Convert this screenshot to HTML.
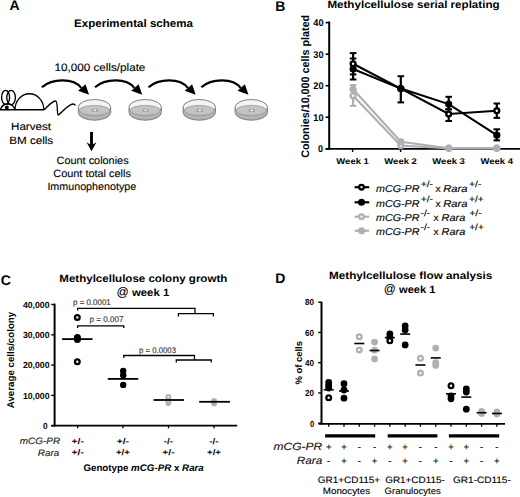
<!DOCTYPE html>
<html><head><meta charset="utf-8"><style>
html,body{margin:0;padding:0;background:#fff;}
svg{display:block;font-family:"Liberation Sans", sans-serif;text-rendering:geometricPrecision;}
</style></head><body>
<svg width="520" height="497" viewBox="0 0 520 497">
<rect width="520" height="497" fill="#fff"/>
<text x="9.6" y="10.2" font-size="14" font-weight="bold">A</text>
<text x="74" y="27" font-size="11" font-weight="bold" textLength="119" lengthAdjust="spacingAndGlyphs">Experimental schema</text>
<text x="54.4" y="70.9" font-size="10.8" stroke="#000" stroke-width="0.12" textLength="91" lengthAdjust="spacingAndGlyphs">10,000 cells/plate</text>
<g fill="none" stroke="#000" stroke-width="1.35">
<line x1="0" y1="109.8" x2="44" y2="109.8" stroke-width="1.6"/>
<path d="M15,109.8 A14.4,16.1 0 0 1 43.8,109.8"/>
<path d="M0.3,110 C2.5,102 13,102 15,110"/>
<ellipse cx="5.6" cy="97.4" rx="4.0" ry="7.0"/>
<ellipse cx="11.1" cy="97.6" rx="4.3" ry="7.2"/>
<path d="M44,110 C48,106 52,101 55.5,101 C58,101 57,115 58,115 C60,115 68,104 73,104 C74.5,104 75.5,105.5 75.5,105.5"/>
</g>
<circle cx="6.8" cy="107.5" r="2.0" fill="#000"/>
<g stroke="#808080" stroke-width="1.0">
<path d="M78.3,107.4 L78.3,112.4 A16.2,7.8 0 0 0 110.7,112.4 L110.7,107.4 Z" fill="#b3b3b3"/>
<ellipse cx="94.5" cy="107.4" rx="16.2" ry="7.9" fill="#f4f4f4"/>
<ellipse cx="94.5" cy="110.4" rx="15.0" ry="5.0" fill="#c4c4c4" stroke="#939393" stroke-width="0.7"/>
<ellipse cx="94.9" cy="110.4" rx="3.4" ry="1.6" fill="#a2a2a2" stroke="none"/>
<ellipse cx="95.0" cy="110.4" rx="1.3" ry="0.8" fill="#fafafa" stroke="none"/>
</g>
<g stroke="#808080" stroke-width="1.0">
<path d="M129.0,107.4 L129.0,112.4 A16.2,7.8 0 0 0 161.39999999999998,112.4 L161.39999999999998,107.4 Z" fill="#b3b3b3"/>
<ellipse cx="145.2" cy="107.4" rx="16.2" ry="7.9" fill="#f4f4f4"/>
<ellipse cx="145.2" cy="110.4" rx="15.0" ry="5.0" fill="#c4c4c4" stroke="#939393" stroke-width="0.7"/>
<ellipse cx="145.6" cy="110.4" rx="3.4" ry="1.6" fill="#a2a2a2" stroke="none"/>
<ellipse cx="145.7" cy="110.4" rx="1.3" ry="0.8" fill="#fafafa" stroke="none"/>
</g>
<g stroke="#808080" stroke-width="1.0">
<path d="M183.10000000000002,107.4 L183.10000000000002,112.4 A16.2,7.8 0 0 0 215.5,112.4 L215.5,107.4 Z" fill="#b3b3b3"/>
<ellipse cx="199.3" cy="107.4" rx="16.2" ry="7.9" fill="#f4f4f4"/>
<ellipse cx="199.3" cy="110.4" rx="15.0" ry="5.0" fill="#c4c4c4" stroke="#939393" stroke-width="0.7"/>
<ellipse cx="199.70000000000002" cy="110.4" rx="3.4" ry="1.6" fill="#a2a2a2" stroke="none"/>
<ellipse cx="199.8" cy="110.4" rx="1.3" ry="0.8" fill="#fafafa" stroke="none"/>
</g>
<g stroke="#808080" stroke-width="1.0">
<path d="M235.10000000000002,107.4 L235.10000000000002,112.4 A16.2,7.8 0 0 0 267.5,112.4 L267.5,107.4 Z" fill="#b3b3b3"/>
<ellipse cx="251.3" cy="107.4" rx="16.2" ry="7.9" fill="#f4f4f4"/>
<ellipse cx="251.3" cy="110.4" rx="15.0" ry="5.0" fill="#c4c4c4" stroke="#939393" stroke-width="0.7"/>
<ellipse cx="251.70000000000002" cy="110.4" rx="3.4" ry="1.6" fill="#a2a2a2" stroke="none"/>
<ellipse cx="251.8" cy="110.4" rx="1.3" ry="0.8" fill="#fafafa" stroke="none"/>
</g>
<path d="M41.9,87.3 C51.9,78.1 73.9,77.7 81.19999999999999,87.89999999999999" stroke="#000" stroke-width="2.2" fill="none"/>
<path d="M85.5,84.2 L78.1,90.8 L89.1,94.8 Z" fill="#000"/>
<path d="M95.0,87.3 C105.0,78.1 127.0,77.7 134.3,87.89999999999999" stroke="#000" stroke-width="2.2" fill="none"/>
<path d="M138.6,84.2 L131.2,90.8 L142.2,94.8 Z" fill="#000"/>
<path d="M148.5,87.3 C158.5,78.1 180.5,77.7 187.8,87.89999999999999" stroke="#000" stroke-width="2.2" fill="none"/>
<path d="M192.1,84.2 L184.7,90.8 L195.7,94.8 Z" fill="#000"/>
<path d="M201.3,87.3 C211.3,78.1 233.3,77.7 240.60000000000002,87.89999999999999" stroke="#000" stroke-width="2.2" fill="none"/>
<path d="M244.9,84.2 L237.5,90.8 L248.5,94.8 Z" fill="#000"/>
<text x="11.0" y="130" font-size="10.5" stroke="#000" stroke-width="0.12" textLength="40" lengthAdjust="spacingAndGlyphs">Harvest</text>
<text x="9.2" y="143.6" font-size="10.5" stroke="#000" stroke-width="0.12" textLength="44" lengthAdjust="spacingAndGlyphs">BM cells</text>
<line x1="91.5" y1="131.9" x2="91.5" y2="145" stroke="#000" stroke-width="2.9"/>
<path d="M86.6,142.2 L91.5,151.2 L96.4,142.2 L91.5,145.2 Z" fill="#000"/>
<text x="56.6" y="164.4" font-size="10.5" stroke="#000" stroke-width="0.12" textLength="72" lengthAdjust="spacingAndGlyphs">Count colonies</text>
<text x="53.3" y="176.9" font-size="10.5" stroke="#000" stroke-width="0.12" textLength="77.6" lengthAdjust="spacingAndGlyphs">Count total cells</text>
<text x="47.4" y="189.5" font-size="10.5" stroke="#000" stroke-width="0.12" textLength="88.8" lengthAdjust="spacingAndGlyphs">Immunophenotype</text>
<text x="275.2" y="11.2" font-size="14" font-weight="bold">B</text>
<text x="327.4" y="8.1" font-size="10.5" font-weight="bold" textLength="172.2" lengthAdjust="spacingAndGlyphs">Methylcellulose serial replating</text>
<g transform="translate(308.9,157.8) rotate(-90)">
<text x="0" y="0" font-size="11" font-weight="bold" textLength="143.0" lengthAdjust="spacingAndGlyphs">Colonies/10,000 cells plated</text>
</g>
<text x="323.0" y="152.4" font-size="9.8" font-weight="bold" text-anchor="end" textLength="5.0" lengthAdjust="spacingAndGlyphs">0</text>
<line x1="325.6" y1="148.8" x2="329.2" y2="148.8" stroke="#000" stroke-width="1.6"/>
<text x="323.5" y="120.85000000000001" font-size="9.8" font-weight="bold" text-anchor="end" textLength="10.2" lengthAdjust="spacingAndGlyphs">10</text>
<line x1="325.6" y1="117.25000000000001" x2="329.2" y2="117.25000000000001" stroke="#000" stroke-width="1.6"/>
<text x="323.5" y="89.30000000000001" font-size="9.8" font-weight="bold" text-anchor="end" textLength="10.2" lengthAdjust="spacingAndGlyphs">20</text>
<line x1="325.6" y1="85.70000000000002" x2="329.2" y2="85.70000000000002" stroke="#000" stroke-width="1.6"/>
<text x="323.5" y="57.75000000000002" font-size="9.8" font-weight="bold" text-anchor="end" textLength="10.2" lengthAdjust="spacingAndGlyphs">30</text>
<line x1="325.6" y1="54.15000000000002" x2="329.2" y2="54.15000000000002" stroke="#000" stroke-width="1.6"/>
<text x="323.5" y="26.200000000000024" font-size="9.8" font-weight="bold" text-anchor="end" textLength="10.2" lengthAdjust="spacingAndGlyphs">40</text>
<line x1="325.6" y1="22.600000000000023" x2="329.2" y2="22.600000000000023" stroke="#000" stroke-width="1.6"/>
<line x1="329.2" y1="21.6" x2="329.2" y2="149.6" stroke="#000" stroke-width="2"/>
<line x1="325.6" y1="148.8" x2="520" y2="148.8" stroke="#000" stroke-width="1.7"/>
<line x1="352.6" y1="148.8" x2="352.6" y2="152" stroke="#000" stroke-width="1.4"/>
<text x="352.6" y="163.5" font-size="8.3" font-weight="bold" text-anchor="middle" textLength="32.5" lengthAdjust="spacingAndGlyphs">Week 1</text>
<line x1="400.6" y1="148.8" x2="400.6" y2="152" stroke="#000" stroke-width="1.4"/>
<text x="400.6" y="163.5" font-size="8.3" font-weight="bold" text-anchor="middle" textLength="32.5" lengthAdjust="spacingAndGlyphs">Week 2</text>
<line x1="448.6" y1="148.8" x2="448.6" y2="152" stroke="#000" stroke-width="1.4"/>
<text x="448.6" y="163.5" font-size="8.3" font-weight="bold" text-anchor="middle" textLength="32.5" lengthAdjust="spacingAndGlyphs">Week 3</text>
<line x1="496.7" y1="148.8" x2="496.7" y2="152" stroke="#000" stroke-width="1.4"/>
<text x="496.7" y="163.5" font-size="8.3" font-weight="bold" text-anchor="middle" textLength="32.5" lengthAdjust="spacingAndGlyphs">Week 4</text>
<polyline points="353.1,89.3 400.8,141.8 448.7,148.2 496.8,148.2" fill="none" stroke="#b0b0b0" stroke-width="2.1"/>
<line x1="353.1" y1="85" x2="353.1" y2="96" stroke="#b0b0b0" stroke-width="2.2"/>
<line x1="349.8" y1="85" x2="356.40000000000003" y2="85" stroke="#b0b0b0" stroke-width="2"/>
<line x1="349.8" y1="96" x2="356.40000000000003" y2="96" stroke="#b0b0b0" stroke-width="2"/>
<polyline points="353.1,95.8 400.8,145.6 448.7,148.2 496.8,148.2" fill="none" stroke="#b0b0b0" stroke-width="2.1"/>
<line x1="353.1" y1="91" x2="353.1" y2="105.8" stroke="#b0b0b0" stroke-width="2.2"/>
<line x1="349.8" y1="91" x2="356.40000000000003" y2="91" stroke="#b0b0b0" stroke-width="2"/>
<line x1="349.8" y1="105.8" x2="356.40000000000003" y2="105.8" stroke="#b0b0b0" stroke-width="2"/>
<circle cx="353.1" cy="95.8" r="2.4" fill="#fff" stroke="#b0b0b0" stroke-width="2.4"/>
<circle cx="400.8" cy="145.6" r="2.4" fill="#fff" stroke="#b0b0b0" stroke-width="2.4"/>
<circle cx="448.7" cy="148.2" r="2.4" fill="#fff" stroke="#b0b0b0" stroke-width="2.4"/>
<circle cx="496.8" cy="148.2" r="2.4" fill="#fff" stroke="#b0b0b0" stroke-width="2.4"/>
<circle cx="353.1" cy="89.3" r="3.6" fill="#b0b0b0"/>
<circle cx="400.8" cy="141.8" r="3.6" fill="#b0b0b0"/>
<circle cx="448.7" cy="148.2" r="3.6" fill="#b0b0b0"/>
<circle cx="496.8" cy="148.2" r="3.6" fill="#b0b0b0"/>
<polyline points="353.1,63.8 400.8,88.6 448.7,114.0 496.8,110.7" fill="none" stroke="#000" stroke-width="2.1"/>
<line x1="353.1" y1="53.1" x2="353.1" y2="74.4" stroke="#000" stroke-width="2.2"/>
<line x1="349.8" y1="53.1" x2="356.40000000000003" y2="53.1" stroke="#000" stroke-width="2"/>
<line x1="349.8" y1="74.4" x2="356.40000000000003" y2="74.4" stroke="#000" stroke-width="2"/>
<line x1="448.7" y1="109.3" x2="448.7" y2="121" stroke="#000" stroke-width="2.2"/>
<line x1="445.4" y1="109.3" x2="452.0" y2="109.3" stroke="#000" stroke-width="2"/>
<line x1="445.4" y1="121" x2="452.0" y2="121" stroke="#000" stroke-width="2"/>
<line x1="496.8" y1="103.5" x2="496.8" y2="117.9" stroke="#000" stroke-width="2.2"/>
<line x1="493.5" y1="103.5" x2="500.1" y2="103.5" stroke="#000" stroke-width="2"/>
<line x1="493.5" y1="117.9" x2="500.1" y2="117.9" stroke="#000" stroke-width="2"/>
<polyline points="353.1,69.0 400.8,88.6 448.7,104.1 496.8,135.2" fill="none" stroke="#000" stroke-width="2.1"/>
<line x1="353.1" y1="58.5" x2="353.1" y2="79.5" stroke="#000" stroke-width="2.2"/>
<line x1="349.8" y1="58.5" x2="356.40000000000003" y2="58.5" stroke="#000" stroke-width="2"/>
<line x1="349.8" y1="79.5" x2="356.40000000000003" y2="79.5" stroke="#000" stroke-width="2"/>
<line x1="400.8" y1="76.2" x2="400.8" y2="102.4" stroke="#000" stroke-width="2.2"/>
<line x1="397.5" y1="76.2" x2="404.1" y2="76.2" stroke="#000" stroke-width="2"/>
<line x1="397.5" y1="102.4" x2="404.1" y2="102.4" stroke="#000" stroke-width="2"/>
<line x1="448.7" y1="96.8" x2="448.7" y2="109.3" stroke="#000" stroke-width="2.2"/>
<line x1="445.4" y1="96.8" x2="452.0" y2="96.8" stroke="#000" stroke-width="2"/>
<line x1="445.4" y1="109.3" x2="452.0" y2="109.3" stroke="#000" stroke-width="2"/>
<line x1="496.8" y1="129.3" x2="496.8" y2="140.4" stroke="#000" stroke-width="2.2"/>
<line x1="493.5" y1="129.3" x2="500.1" y2="129.3" stroke="#000" stroke-width="2"/>
<line x1="493.5" y1="140.4" x2="500.1" y2="140.4" stroke="#000" stroke-width="2"/>
<circle cx="353.1" cy="63.8" r="2.4" fill="#fff" stroke="#000" stroke-width="2.4"/>
<circle cx="400.8" cy="88.6" r="2.4" fill="#fff" stroke="#000" stroke-width="2.4"/>
<circle cx="448.7" cy="114.0" r="2.4" fill="#fff" stroke="#000" stroke-width="2.4"/>
<circle cx="496.8" cy="110.7" r="2.4" fill="#fff" stroke="#000" stroke-width="2.4"/>
<circle cx="353.1" cy="69.0" r="3.6" fill="#000"/>
<circle cx="400.8" cy="88.6" r="3.6" fill="#000"/>
<circle cx="448.7" cy="104.1" r="3.6" fill="#000"/>
<circle cx="496.8" cy="135.2" r="3.6" fill="#000"/>
<line x1="354.6" y1="187.2" x2="369.2" y2="187.2" stroke="#000" stroke-width="2.2"/>
<circle cx="361.5" cy="187.2" r="2.3" fill="#fff" stroke="#000" stroke-width="2.3"/>
<text x="376.0" y="191.6" font-size="10" font-style="italic" stroke="#000" stroke-width="0.12" textLength="43.5" lengthAdjust="spacingAndGlyphs">mCG-PR</text>
<text x="420.7" y="186.7" font-size="9" stroke="#000" stroke-width="0.12" textLength="12.4" lengthAdjust="spacingAndGlyphs">+/-</text>
<text x="435.6" y="191.6" font-size="10" stroke="#000" stroke-width="0.12" textLength="5.2" lengthAdjust="spacingAndGlyphs">x</text>
<text x="443.2" y="191.6" font-size="10" font-style="italic" stroke="#000" stroke-width="0.12" textLength="24.2" lengthAdjust="spacingAndGlyphs">Rara</text>
<text x="469.0" y="186.7" font-size="9" stroke="#000" stroke-width="0.12" textLength="12.4" lengthAdjust="spacingAndGlyphs">+/-</text>
<line x1="354.6" y1="202.3" x2="369.2" y2="202.3" stroke="#000" stroke-width="2.2"/>
<circle cx="361.5" cy="202.3" r="3.5" fill="#000"/>
<text x="376.0" y="206.70000000000002" font-size="10" font-style="italic" stroke="#000" stroke-width="0.12" textLength="43.5" lengthAdjust="spacingAndGlyphs">mCG-PR</text>
<text x="420.7" y="201.8" font-size="9" stroke="#000" stroke-width="0.12" textLength="12.4" lengthAdjust="spacingAndGlyphs">+/-</text>
<text x="435.6" y="206.70000000000002" font-size="10" stroke="#000" stroke-width="0.12" textLength="5.2" lengthAdjust="spacingAndGlyphs">x</text>
<text x="443.2" y="206.70000000000002" font-size="10" font-style="italic" stroke="#000" stroke-width="0.12" textLength="24.2" lengthAdjust="spacingAndGlyphs">Rara</text>
<text x="469.0" y="201.8" font-size="9" stroke="#000" stroke-width="0.12" textLength="14.6" lengthAdjust="spacingAndGlyphs">+/+</text>
<line x1="354.6" y1="216.7" x2="369.2" y2="216.7" stroke="#b0b0b0" stroke-width="2.2"/>
<circle cx="361.5" cy="216.7" r="2.3" fill="#fff" stroke="#b0b0b0" stroke-width="2.3"/>
<text x="376.0" y="221.1" font-size="10" font-style="italic" stroke="#000" stroke-width="0.12" textLength="43.5" lengthAdjust="spacingAndGlyphs">mCG-PR</text>
<text x="420.6" y="216.2" font-size="9" stroke="#000" stroke-width="0.12" textLength="9.6" lengthAdjust="spacingAndGlyphs">-/-</text>
<text x="433.4" y="221.1" font-size="10" stroke="#000" stroke-width="0.12" textLength="5.2" lengthAdjust="spacingAndGlyphs">x</text>
<text x="441.6" y="221.1" font-size="10" font-style="italic" stroke="#000" stroke-width="0.12" textLength="23.7" lengthAdjust="spacingAndGlyphs">Rara</text>
<text x="469.2" y="216.2" font-size="9" stroke="#000" stroke-width="0.12" textLength="12.6" lengthAdjust="spacingAndGlyphs">+/-</text>
<line x1="354.6" y1="230.7" x2="369.2" y2="230.7" stroke="#b0b0b0" stroke-width="2.2"/>
<circle cx="361.5" cy="230.7" r="3.5" fill="#b0b0b0"/>
<text x="376.0" y="235.1" font-size="10" font-style="italic" stroke="#000" stroke-width="0.12" textLength="43.5" lengthAdjust="spacingAndGlyphs">mCG-PR</text>
<text x="420.6" y="230.2" font-size="9" stroke="#000" stroke-width="0.12" textLength="9.6" lengthAdjust="spacingAndGlyphs">-/-</text>
<text x="433.4" y="235.1" font-size="10" stroke="#000" stroke-width="0.12" textLength="5.2" lengthAdjust="spacingAndGlyphs">x</text>
<text x="441.6" y="235.1" font-size="10" font-style="italic" stroke="#000" stroke-width="0.12" textLength="23.7" lengthAdjust="spacingAndGlyphs">Rara</text>
<text x="469.2" y="230.2" font-size="9" stroke="#000" stroke-width="0.12" textLength="14.6" lengthAdjust="spacingAndGlyphs">+/+</text>
<text x="0.8" y="285" font-size="14" font-weight="bold">C</text>
<text x="59.3" y="282.3" font-size="10.5" font-weight="bold" textLength="168" lengthAdjust="spacingAndGlyphs">Methylcellulose colony growth</text>
<text x="116.4" y="296" font-size="12.5" stroke="#000" stroke-width="0.12" textLength="12.2" lengthAdjust="spacingAndGlyphs">@</text>
<text x="132.0" y="296" font-size="10.5" font-weight="bold" textLength="37.2" lengthAdjust="spacingAndGlyphs">week 1</text>
<text x="47.5" y="428.8" font-size="8.8" font-weight="bold" text-anchor="end" textLength="4.6" lengthAdjust="spacingAndGlyphs">0</text>
<line x1="51.3" y1="425.7" x2="54.6" y2="425.7" stroke="#000" stroke-width="1.4"/>
<text x="49.5" y="398.5" font-size="8.8" font-weight="bold" text-anchor="end" textLength="26.6" lengthAdjust="spacingAndGlyphs">10,000</text>
<line x1="51.3" y1="395.4" x2="54.6" y2="395.4" stroke="#000" stroke-width="1.4"/>
<text x="49.5" y="368.2" font-size="8.8" font-weight="bold" text-anchor="end" textLength="26.6" lengthAdjust="spacingAndGlyphs">20,000</text>
<line x1="51.3" y1="365.09999999999997" x2="54.6" y2="365.09999999999997" stroke="#000" stroke-width="1.4"/>
<text x="49.5" y="337.9" font-size="8.8" font-weight="bold" text-anchor="end" textLength="26.6" lengthAdjust="spacingAndGlyphs">30,000</text>
<line x1="51.3" y1="334.79999999999995" x2="54.6" y2="334.79999999999995" stroke="#000" stroke-width="1.4"/>
<text x="49.5" y="307.6" font-size="8.8" font-weight="bold" text-anchor="end" textLength="26.6" lengthAdjust="spacingAndGlyphs">40,000</text>
<line x1="51.3" y1="304.5" x2="54.6" y2="304.5" stroke="#000" stroke-width="1.4"/>
<line x1="54.6" y1="303.6" x2="54.6" y2="426.5" stroke="#000" stroke-width="2"/>
<line x1="51.3" y1="425.7" x2="237.2" y2="425.7" stroke="#000" stroke-width="1.8"/>
<line x1="77.7" y1="425.7" x2="77.7" y2="428.3" stroke="#000" stroke-width="1.3"/>
<line x1="122.9" y1="425.7" x2="122.9" y2="428.3" stroke="#000" stroke-width="1.3"/>
<line x1="168.5" y1="425.7" x2="168.5" y2="428.3" stroke="#000" stroke-width="1.3"/>
<line x1="214.0" y1="425.7" x2="214.0" y2="428.3" stroke="#000" stroke-width="1.3"/>
<g transform="translate(14.1,408.2) rotate(-90)">
<text x="0" y="0" font-size="9.8" font-weight="bold" textLength="96.4" lengthAdjust="spacingAndGlyphs">Average cells/colony</text>
</g>
<circle cx="77.3" cy="317.4" r="2.35" fill="#fff" stroke="#000" stroke-width="2.3"/>
<circle cx="77.3" cy="361.8" r="2.35" fill="#fff" stroke="#000" stroke-width="2.3"/>
<circle cx="77.4" cy="337.6" r="3.5" fill="#000"/>
<circle cx="77.4" cy="339.6" r="3.5" fill="#000"/>
<line x1="62.1" y1="339.1" x2="92.5" y2="339.1" stroke="#000" stroke-width="1.8"/>
<circle cx="123.2" cy="371.0" r="3.2" fill="#000"/>
<circle cx="123.2" cy="375.3" r="3.2" fill="#000"/>
<circle cx="123.2" cy="384.9" r="3.2" fill="#000"/>
<line x1="107.8" y1="378.9" x2="138.3" y2="378.9" stroke="#000" stroke-width="1.8"/>
<circle cx="168.4" cy="403.0" r="2.9" fill="#b0b0b0"/>
<circle cx="168.4" cy="397.0" r="2.1" fill="#e6e6e6" stroke="#b0b0b0" stroke-width="1.7"/>
<circle cx="168.4" cy="401.0" r="2.1" fill="#d0d0d0" stroke="#b0b0b0" stroke-width="1.7"/>
<line x1="153.6" y1="400.0" x2="184.0" y2="400.0" stroke="#000" stroke-width="1.8"/>
<circle cx="214.1" cy="401.0" r="2.9" fill="#b0b0b0"/>
<circle cx="214.1" cy="403.4" r="2.9" fill="#b0b0b0"/>
<line x1="199.2" y1="401.8" x2="229.9" y2="401.8" stroke="#000" stroke-width="1.8"/>
<path d="M77.6,310.6 V308.3 H195 V313.6 M178.4,316.4 V313.6 H213.4 V316.4" stroke="#000" stroke-width="1.3" fill="none"/>
<path d="M77.6,328.1 V325.8 H123.8 V328.1" stroke="#000" stroke-width="1.3" fill="none"/>
<path d="M123.8,358 V355.5 H194.5 V360 M176.3,362.5 V360 H211.3 V362.5" stroke="#000" stroke-width="1.3" fill="none"/>
<text x="73.0" y="304.6" font-size="8.2" fill="#333" stroke="#333" stroke-width="0.12" textLength="37.8" lengthAdjust="spacingAndGlyphs">p = 0.0001</text>
<text x="89.6" y="321.6" font-size="8.2" fill="#333" stroke="#333" stroke-width="0.12" textLength="33.8" lengthAdjust="spacingAndGlyphs">p = 0.007</text>
<text x="139.0" y="352.7" font-size="8.2" fill="#333" stroke="#333" stroke-width="0.12" textLength="37.0" lengthAdjust="spacingAndGlyphs">p = 0.0003</text>
<text x="19.8" y="444.3" font-size="9.2" font-style="italic" fill="#222" stroke="#222" stroke-width="0.12" textLength="40.4" lengthAdjust="spacingAndGlyphs">mCG-PR</text>
<text x="37.8" y="455.8" font-size="9.2" font-style="italic" fill="#222" stroke="#222" stroke-width="0.12" textLength="21.6" lengthAdjust="spacingAndGlyphs">Rara</text>
<text x="77.7" y="443.5" font-size="8.2" font-weight="bold" text-anchor="middle" textLength="12.3" lengthAdjust="spacingAndGlyphs">+/-</text>
<text x="77.7" y="454.6" font-size="8.2" font-weight="bold" text-anchor="middle" textLength="12.3" lengthAdjust="spacingAndGlyphs">+/-</text>
<text x="122.9" y="443.5" font-size="8.2" font-weight="bold" text-anchor="middle" textLength="12.3" lengthAdjust="spacingAndGlyphs">+/-</text>
<text x="122.9" y="454.6" font-size="8.2" font-weight="bold" text-anchor="middle" textLength="13.9" lengthAdjust="spacingAndGlyphs">+/+</text>
<text x="168.5" y="443.5" font-size="8.2" font-weight="bold" text-anchor="middle" textLength="9.3" lengthAdjust="spacingAndGlyphs">-/-</text>
<text x="168.5" y="454.6" font-size="8.2" font-weight="bold" text-anchor="middle" textLength="12.3" lengthAdjust="spacingAndGlyphs">+/-</text>
<text x="214.0" y="443.5" font-size="8.2" font-weight="bold" text-anchor="middle" textLength="9.3" lengthAdjust="spacingAndGlyphs">-/-</text>
<text x="214.0" y="454.6" font-size="8.2" font-weight="bold" text-anchor="middle" textLength="13.9" lengthAdjust="spacingAndGlyphs">+/+</text>
<text x="83.4" y="470.8" font-size="9.6" font-weight="bold" textLength="120.4" lengthAdjust="spacingAndGlyphs">Genotype <tspan font-style="italic">mCG-PR</tspan> x <tspan font-style="italic">Rara</tspan></text>
<text x="275.2" y="282.6" font-size="14" font-weight="bold">D</text>
<text x="329.0" y="278.8" font-size="10.5" font-weight="bold" textLength="163.2" lengthAdjust="spacingAndGlyphs">Methylcellulose flow analysis</text>
<text x="383.8" y="292.6" font-size="12.5" stroke="#000" stroke-width="0.12" textLength="12.0" lengthAdjust="spacingAndGlyphs">@</text>
<text x="399.0" y="292.6" font-size="10.5" font-weight="bold" textLength="36.4" lengthAdjust="spacingAndGlyphs">week 1</text>
<text x="314.1" y="426.90000000000003" font-size="8.8" font-weight="bold" text-anchor="end" textLength="4.2" lengthAdjust="spacingAndGlyphs">0</text>
<line x1="318.2" y1="423.2" x2="321.5" y2="423.2" stroke="#000" stroke-width="1.4"/>
<text x="314.1" y="396.05" font-size="8.8" font-weight="bold" text-anchor="end" textLength="9.0" lengthAdjust="spacingAndGlyphs">20</text>
<line x1="318.2" y1="392.95" x2="321.5" y2="392.95" stroke="#000" stroke-width="1.4"/>
<text x="314.1" y="365.8" font-size="8.8" font-weight="bold" text-anchor="end" textLength="9.0" lengthAdjust="spacingAndGlyphs">40</text>
<line x1="318.2" y1="362.7" x2="321.5" y2="362.7" stroke="#000" stroke-width="1.4"/>
<text x="314.1" y="335.55" font-size="8.8" font-weight="bold" text-anchor="end" textLength="9.0" lengthAdjust="spacingAndGlyphs">60</text>
<line x1="318.2" y1="332.45" x2="321.5" y2="332.45" stroke="#000" stroke-width="1.4"/>
<text x="314.1" y="305.3" font-size="8.8" font-weight="bold" text-anchor="end" textLength="9.0" lengthAdjust="spacingAndGlyphs">80</text>
<line x1="318.2" y1="302.2" x2="321.5" y2="302.2" stroke="#000" stroke-width="1.4"/>
<line x1="321.5" y1="301.8" x2="321.5" y2="424.5" stroke="#000" stroke-width="2"/>
<line x1="318.6" y1="423.9" x2="505" y2="423.9" stroke="#000" stroke-width="1.8"/>
<g transform="translate(301.6,384.6) rotate(-90)">
<text x="0" y="0" font-size="9.5" font-weight="bold" textLength="43.6" lengthAdjust="spacingAndGlyphs">% of cells</text>
</g>
<line x1="328.7" y1="423.7" x2="328.7" y2="426.7" stroke="#000" stroke-width="1.3"/>
<line x1="343.99" y1="423.7" x2="343.99" y2="426.7" stroke="#000" stroke-width="1.3"/>
<line x1="359.28" y1="423.7" x2="359.28" y2="426.7" stroke="#000" stroke-width="1.3"/>
<line x1="374.57" y1="423.7" x2="374.57" y2="426.7" stroke="#000" stroke-width="1.3"/>
<line x1="389.86" y1="423.7" x2="389.86" y2="426.7" stroke="#000" stroke-width="1.3"/>
<line x1="405.15" y1="423.7" x2="405.15" y2="426.7" stroke="#000" stroke-width="1.3"/>
<line x1="420.44" y1="423.7" x2="420.44" y2="426.7" stroke="#000" stroke-width="1.3"/>
<line x1="435.73" y1="423.7" x2="435.73" y2="426.7" stroke="#000" stroke-width="1.3"/>
<line x1="451.02" y1="423.7" x2="451.02" y2="426.7" stroke="#000" stroke-width="1.3"/>
<line x1="466.30999999999995" y1="423.7" x2="466.30999999999995" y2="426.7" stroke="#000" stroke-width="1.3"/>
<line x1="481.59999999999997" y1="423.7" x2="481.59999999999997" y2="426.7" stroke="#000" stroke-width="1.3"/>
<line x1="496.89" y1="423.7" x2="496.89" y2="426.7" stroke="#000" stroke-width="1.3"/>
<line x1="325.1" y1="435.9" x2="375.2" y2="435.9" stroke="#000" stroke-width="3.2"/>
<line x1="387.7" y1="435.9" x2="437.4" y2="435.9" stroke="#000" stroke-width="3.2"/>
<line x1="448.9" y1="435.9" x2="499.2" y2="435.9" stroke="#000" stroke-width="3.2"/>
<text x="328.7" y="450" font-size="9.5" text-anchor="middle" fill="#111" stroke="#111" stroke-width="0.12">+</text>
<text x="328.7" y="464.3" font-size="9.5" text-anchor="middle" fill="#111" stroke="#111" stroke-width="0.12">-</text>
<text x="343.99" y="450" font-size="9.5" text-anchor="middle" fill="#111" stroke="#111" stroke-width="0.12">+</text>
<text x="343.99" y="464.3" font-size="9.5" text-anchor="middle" fill="#111" stroke="#111" stroke-width="0.12">+</text>
<text x="359.28" y="450" font-size="9.5" text-anchor="middle" fill="#111" stroke="#111" stroke-width="0.12">-</text>
<text x="359.28" y="464.3" font-size="9.5" text-anchor="middle" fill="#111" stroke="#111" stroke-width="0.12">-</text>
<text x="374.57" y="450" font-size="9.5" text-anchor="middle" fill="#111" stroke="#111" stroke-width="0.12">-</text>
<text x="374.57" y="464.3" font-size="9.5" text-anchor="middle" fill="#111" stroke="#111" stroke-width="0.12">+</text>
<text x="389.86" y="450" font-size="9.5" text-anchor="middle" fill="#111" stroke="#111" stroke-width="0.12">+</text>
<text x="389.86" y="464.3" font-size="9.5" text-anchor="middle" fill="#111" stroke="#111" stroke-width="0.12">-</text>
<text x="405.15" y="450" font-size="9.5" text-anchor="middle" fill="#111" stroke="#111" stroke-width="0.12">+</text>
<text x="405.15" y="464.3" font-size="9.5" text-anchor="middle" fill="#111" stroke="#111" stroke-width="0.12">+</text>
<text x="420.44" y="450" font-size="9.5" text-anchor="middle" fill="#111" stroke="#111" stroke-width="0.12">-</text>
<text x="420.44" y="464.3" font-size="9.5" text-anchor="middle" fill="#111" stroke="#111" stroke-width="0.12">-</text>
<text x="435.73" y="450" font-size="9.5" text-anchor="middle" fill="#111" stroke="#111" stroke-width="0.12">-</text>
<text x="435.73" y="464.3" font-size="9.5" text-anchor="middle" fill="#111" stroke="#111" stroke-width="0.12">+</text>
<text x="451.02" y="450" font-size="9.5" text-anchor="middle" fill="#111" stroke="#111" stroke-width="0.12">+</text>
<text x="451.02" y="464.3" font-size="9.5" text-anchor="middle" fill="#111" stroke="#111" stroke-width="0.12">-</text>
<text x="466.30999999999995" y="450" font-size="9.5" text-anchor="middle" fill="#111" stroke="#111" stroke-width="0.12">+</text>
<text x="466.30999999999995" y="464.3" font-size="9.5" text-anchor="middle" fill="#111" stroke="#111" stroke-width="0.12">+</text>
<text x="481.59999999999997" y="450" font-size="9.5" text-anchor="middle" fill="#111" stroke="#111" stroke-width="0.12">-</text>
<text x="481.59999999999997" y="464.3" font-size="9.5" text-anchor="middle" fill="#111" stroke="#111" stroke-width="0.12">-</text>
<text x="496.89" y="450" font-size="9.5" text-anchor="middle" fill="#111" stroke="#111" stroke-width="0.12">-</text>
<text x="496.89" y="464.3" font-size="9.5" text-anchor="middle" fill="#111" stroke="#111" stroke-width="0.12">+</text>
<text x="273.6" y="450" font-size="10.5" font-style="italic" fill="#111" stroke="#111" stroke-width="0.12" textLength="48.6" lengthAdjust="spacingAndGlyphs">mCG-PR</text>
<text x="296.8" y="464.3" font-size="10.5" font-style="italic" fill="#111" stroke="#111" stroke-width="0.12" textLength="25.4" lengthAdjust="spacingAndGlyphs">Rara</text>
<text x="317.8" y="483.3" font-size="9.2" stroke="#000" stroke-width="0.12" textLength="62.4" lengthAdjust="spacingAndGlyphs">GR1+CD115+</text>
<text x="322.8" y="494.3" font-size="9.2" stroke="#000" stroke-width="0.12" textLength="47.4" lengthAdjust="spacingAndGlyphs">Monocytes</text>
<text x="385.2" y="482.8" font-size="9.2" stroke="#000" stroke-width="0.12" textLength="59.6" lengthAdjust="spacingAndGlyphs">GR1+CD115-</text>
<text x="384.6" y="494.3" font-size="9.2" stroke="#000" stroke-width="0.12" textLength="56.2" lengthAdjust="spacingAndGlyphs">Granulocytes</text>
<text x="453.0" y="482.8" font-size="9.2" stroke="#000" stroke-width="0.12" textLength="57.8" lengthAdjust="spacingAndGlyphs">GR1-CD115-</text>
<circle cx="328.7" cy="382.5" r="3.4" fill="#000"/>
<circle cx="328.7" cy="385.5" r="3.4" fill="#000"/>
<circle cx="328.7" cy="388.0" r="3.4" fill="#000"/>
<circle cx="328.7" cy="397.8" r="2.35" fill="#fff" stroke="#000" stroke-width="2.3"/>
<circle cx="343.99" cy="383.7" r="3.4" fill="#000"/>
<circle cx="343.99" cy="390.0" r="3.4" fill="#000"/>
<circle cx="343.99" cy="398.2" r="3.4" fill="#000"/>
<circle cx="359.28" cy="336.7" r="2.35" fill="#fff" stroke="#b0b0b0" stroke-width="2.3"/>
<circle cx="359.28" cy="349.9" r="2.35" fill="#fff" stroke="#b0b0b0" stroke-width="2.3"/>
<circle cx="374.57" cy="342.1" r="3.4" fill="#b0b0b0"/>
<circle cx="374.57" cy="350.2" r="3.4" fill="#b0b0b0"/>
<circle cx="374.57" cy="358.9" r="3.4" fill="#b0b0b0"/>
<circle cx="389.86" cy="334.0" r="3.4" fill="#000"/>
<circle cx="389.86" cy="337.5" r="3.4" fill="#000"/>
<circle cx="389.86" cy="340.8" r="2.35" fill="#fff" stroke="#000" stroke-width="2.3"/>
<circle cx="405.15" cy="326.0" r="3.4" fill="#000"/>
<circle cx="405.15" cy="330.0" r="3.4" fill="#000"/>
<circle cx="405.15" cy="344.9" r="3.4" fill="#000"/>
<circle cx="420.44" cy="358.3" r="2.35" fill="#fff" stroke="#b0b0b0" stroke-width="2.3"/>
<circle cx="420.44" cy="373.1" r="2.35" fill="#fff" stroke="#b0b0b0" stroke-width="2.3"/>
<circle cx="435.73" cy="348.1" r="3.4" fill="#b0b0b0"/>
<circle cx="435.73" cy="362.7" r="3.4" fill="#b0b0b0"/>
<circle cx="435.73" cy="365.4" r="3.4" fill="#b0b0b0"/>
<circle cx="451.02" cy="385.8" r="2.35" fill="#fff" stroke="#000" stroke-width="2.3"/>
<circle cx="451.02" cy="396.0" r="3.4" fill="#000"/>
<circle cx="451.02" cy="398.8" r="3.4" fill="#000"/>
<circle cx="466.30999999999995" cy="389.0" r="3.4" fill="#000"/>
<circle cx="466.30999999999995" cy="392.0" r="3.4" fill="#000"/>
<circle cx="466.30999999999995" cy="409.2" r="3.4" fill="#000"/>
<circle cx="481.59999999999997" cy="411.5" r="3.4" fill="#b0b0b0"/>
<circle cx="481.59999999999997" cy="413.5" r="3.4" fill="#b0b0b0"/>
<circle cx="496.89" cy="412.0" r="3.4" fill="#b0b0b0"/>
<circle cx="496.89" cy="414.0" r="3.4" fill="#b0b0b0"/>
<line x1="323.7" y1="389.8" x2="333.7" y2="389.8" stroke="#000" stroke-width="1.6"/>
<line x1="338.99" y1="391.0" x2="348.99" y2="391.0" stroke="#000" stroke-width="1.6"/>
<line x1="354.28" y1="343.5" x2="364.28" y2="343.5" stroke="#000" stroke-width="1.6"/>
<line x1="369.57" y1="350.5" x2="379.57" y2="350.5" stroke="#000" stroke-width="1.6"/>
<line x1="384.86" y1="337.6" x2="394.86" y2="337.6" stroke="#000" stroke-width="1.6"/>
<line x1="400.15" y1="334.1" x2="410.15" y2="334.1" stroke="#000" stroke-width="1.6"/>
<line x1="415.44" y1="365.0" x2="425.44" y2="365.0" stroke="#000" stroke-width="1.6"/>
<line x1="430.73" y1="357.9" x2="440.73" y2="357.9" stroke="#000" stroke-width="1.6"/>
<line x1="446.02" y1="393.8" x2="456.02" y2="393.8" stroke="#000" stroke-width="1.6"/>
<line x1="461.30999999999995" y1="397.1" x2="471.30999999999995" y2="397.1" stroke="#000" stroke-width="1.6"/>
<line x1="476.59999999999997" y1="412.7" x2="486.59999999999997" y2="412.7" stroke="#000" stroke-width="1.6"/>
<line x1="491.89" y1="413.5" x2="501.89" y2="413.5" stroke="#000" stroke-width="1.6"/>
</svg>
</body></html>
